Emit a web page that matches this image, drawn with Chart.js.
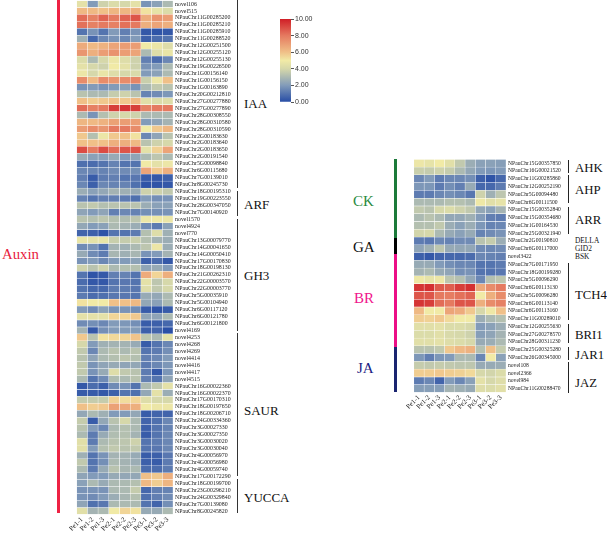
<!DOCTYPE html>
<html>
<head>
<meta charset="utf-8">
<title>Hormone gene heatmap</title>
<script src="https://cdn.jsdelivr.net/npm/chart.js@4/dist/chart.umd.min.js"></script>
<style>
  html, body { margin: 0; padding: 0; background: #fff; }
  #page { position: relative; width: 607px; height: 533px; overflow: hidden; font-family: "Liberation Serif", serif; }
  #page canvas { position: absolute; }
  .note { position: absolute; white-space: nowrap; line-height: 1; transform: translateY(-50%); color: #111; }
  .rule { position: absolute; }
</style>
</head>
<body>
<div id="page">
  <canvas id="leftHeat" width="166" height="539" style="left:69px;top:-5.4px"></canvas>
  <canvas id="rightHeat" width="162" height="258" style="left:406px;top:154.4px"></canvas>
  <canvas id="colorBar" width="60" height="100" style="left:270px;top:10px"></canvas>
</div>
<script>
// column labels
const samples = ["Pe1-1", "Pe1-2", "Pe1-3", "Pe2-1", "Pe2-2", "Pe2-3", "Pe3-1", "Pe3-2", "Pe3-3"];

// left heatmap, auxin genes
const iaaGenes = ["novel106", "novel515", "NPauChr11G00285200", "NPauChr11G00285210", "NPauChr11G00285910", "NPauChr11G00288520", "NPauChr12G00251500", "NPauChr12G00255120", "NPauChr12G00255130", "NPauChr19G00226500", "NPauChr1G00156140", "NPauChr1G00156150", "NPauChr1G00163890", "NPauChr20G00212810", "NPauChr27G00277880", "NPauChr27G00277890", "NPauChr28G00308550", "NPauChr28G00310580", "NPauChr28G00310590", "NPauChr2G00183630", "NPauChr2G00183640", "NPauChr2G00183650", "NPauChr2G00191540", "NPauChr5G00098840", "NPauChr6G00115680", "NPauChr7G00139010", "NPauChr8G00245730"];
const iaaValues = [
  [4.5,2,3.8,4.2,4,4.5,1.8,2.2,3],
  [6.2,6.2,6,6.3,6.3,6.5,5.2,4.6,4.2],
  [8.3,7.8,8.5,8,8.5,8.8,6.6,7.3,7],
  [8.2,7.8,8,7.8,8.2,8,6.5,6.8,6.5],
  [1,1.8,1,2,1.3,1.8,0.3,0.2,0.3],
  [2.7,0.7,1.5,1.8,1.5,2,0.5,0.8,1],
  [6.6,6.2,6.4,6.8,7,7,5,4.8,4.3],
  [7.2,6.5,7,7.3,7,6.8,3,4.3,4.7],
  [4.2,3,4,4.8,4.3,3.8,1.3,0.8,1.5],
  [4.5,4,3.8,5,4.5,3.8,1.8,2,3],
  [4.8,4,4.7,4.3,4,4.1,2,2.2,3],
  [7.5,6.2,7.5,7.2,7.5,7.7,3.7,4.8,6],
  [1.8,2,1.8,2,2.2,1.8,3,3.5,3.3],
  [3.3,3,3,3.6,3.8,3.3,1.4,1.6,1.9],
  [6,5.7,5.8,6,5.8,6.2,4.4,4.2,4.3],
  [8.3,7.8,8,9.3,9.5,9.3,7.8,8,8],
  [3,1.8,3.2,3.8,4,3.8,3,3,3],
  [6.3,6.2,6.4,6.9,7,7,2,2.3,2.8],
  [7,7.5,7.2,8,8,7.5,5,5.8,6.3],
  [5.8,3.2,4.8,5.8,6,5.2,1.5,2.3,3.3],
  [6,6,6,6.5,6.5,6.2,3.3,3.8,4],
  [9,8,9,8.3,8.8,8.8,4.5,5.6,6.8],
  [2.6,2.2,2.2,2.5,2,2.3,3,3.4,3],
  [0.9,0.8,1,1.4,1,1,5,4.5,4.8],
  [1.5,1.5,1.4,1.6,1.6,1.7,6.8,5.8,6.5],
  [1.3,0.4,1.2,1.3,1,1.1,0.4,0.3,0.5],
  [1.5,0.5,1.5,1.4,1.4,0.9,0.2,0.2,0.3]
];
const arfGenes = ["NPauChr18G00195310", "NPauChr19G00223550", "NPauChr26G00347050", "NPauChr7G00140920"];
const arfValues = [
  [2.6,2.2,2.4,2.8,2.7,2.5,3.8,3.8,3.5],
  [1.4,1,1.3,1.3,1.2,0.9,2,1.7,1.8],
  [3.3,3.5,3.2,3.3,3.3,3.3,2.6,2.2,2.2],
  [2.3,2,2.3,1.3,1.5,1.4,1.7,1.7,1.8]
];
const gh3Genes = ["novel1570", "novel4924", "novel770", "NPauChr13G00079770", "NPauChr14G00041650", "NPauChr14G00050410", "NPauChr17G00170830", "NPauChr18G00198130", "NPauChr21G00262310", "NPauChr22G00003570", "NPauChr22G00003770", "NPauChr5G00035910", "NPauChr5G00104940", "NPauChr6G00117120", "NPauChr6G00121780", "NPauChr6G00121800"];
const gh3Values = [
  [3.3,3.2,3.4,3.2,3.1,3.4,4.8,4.9,4.8],
  [2.4,2,2.2,3,2.8,2.6,1.6,1.2,2.2],
  [0.6,0.5,0.2,1,1,1.2,3.2,4.3,2.7],
  [4.7,4.6,4.7,3.7,3.6,3.7,3.2,2.8,2.6],
  [1.6,1.8,1,2.8,2.7,3,3.4,4.8,2.6],
  [2.5,1.6,1.2,2.9,2.7,2.9,1.8,2,2.8],
  [1.8,2,1.5,2,2,2.2,0.5,0.8,0.3],
  [3.8,3.3,3.8,3,3.2,3.2,2.3,2.5,2],
  [1,0.2,0.3,1.3,1.4,1,6.6,5.5,6.5],
  [0.8,0.3,0.3,1,1.1,1,4.5,3.4,4],
  [1,0.7,0.7,1.2,1.2,1.1,4.3,3.5,4],
  [1.2,0.8,0.9,1.1,1.1,1,2.5,2.4,3],
  [5.2,5,5,6,6,6.2,2.4,2.2,3],
  [2,1.6,2.2,1.8,1.8,1.6,0.4,0.2,0.4],
  [4.5,4.5,4.5,5.5,5.5,5.8,2.3,2.3,3],
  [1.6,1.7,1.5,2,1.9,1.7,0.4,0.5,0.7]
];
const saurGenes = ["novel4169", "novel4253", "novel4268", "novel4269", "novel4414", "novel4416", "novel4417", "novel4515", "NPauChr16G00022360", "NPauChr16G00022370", "NPauChr17G00170310", "NPauChr18G00197650", "NPauChr18G00206710", "NPauChr24G00334360", "NPauChr3G00027330", "NPauChr3G00027350", "NPauChr3G00030020", "NPauChr3G00030040", "NPauChr4G00056970", "NPauChr4G00056980", "NPauChr4G00059740"];
const saurValues = [
  [2.8,0.3,1.7,2,2,2,0.5,0.6,0.1],
  [5.8,3.3,5.2,5.4,5.5,5.9,3.4,3,4.5],
  [4,2,2.7,2.8,2.8,2.5,0.4,1,1.5],
  [3.5,1.5,3,3.3,3,3.3,1,1.2,1.7],
  [3.3,2.3,3,3.2,3.4,3.2,1.3,1.5,2],
  [3.5,1.8,2.3,2.5,2.3,2.4,1.2,1.5,1.9],
  [3.5,1.8,2.5,4.3,3.5,3.3,1.2,0.3,1.9],
  [3,1,1.6,3.1,3,3.3,1.3,1,2.3],
  [0.3,0.8,0.5,1.6,1.8,1,3,3.5,4.5],
  [0.4,0.4,0.3,0.5,1,0.9,2.4,4.5,2.6],
  [3.6,3.6,3.6,5.6,5.3,5.5,4.3,4,4],
  [6,5.7,5.8,6.9,6.7,6.5,5,4.8,4.8],
  [2.4,3,2.7,2,2,2.4,0.4,0.6,0.6],
  [3.6,0.4,2.4,3.3,4,3,0.6,0.9,1.5],
  [3.3,2,1.5,3,3.2,3,0.5,1,1.4],
  [3,1.2,2.5,3.1,3.2,2.8,0.4,1,1.5],
  [4.4,1.2,3,3.3,3.4,3.8,1,1.2,1.5],
  [4.4,2,3.2,3.5,3.3,3.5,1,1.1,1.5],
  [2.7,1,1.8,2.8,2.8,2.5,0.4,0.5,1.1],
  [3.5,1,1.7,3,2.8,2.6,0.5,0.4,1.2],
  [3,1.2,2.5,3.3,2.9,3,0.8,0.8,1.2]
];
const yuccaGenes = ["NPauChr17G00172290", "NPauChr18G00199700", "NPauChr23G00296210", "NPauChr24G00329840", "NPauChr7G00139080", "NPauChr8G00245820"];
const yuccaValues = [
  [2.3,2,2,2.5,2.4,2.4,6,5.8,6.5],
  [2.2,3,2.5,3,3,3.2,6.2,5.7,6.3],
  [1.8,1.8,1.8,3,3,3.6,0.7,1.3,1.4],
  [1.8,1.6,2,2.6,2.9,3.2,0.9,1.3,1.6],
  [2.3,0.9,1.1,3,3,3,1,0.6,1.7],
  [4.4,2.8,3,5,5.5,5.2,2.5,2.5,3]
];

// right heatmap, other hormones
const ckGaGenes = ["NPauChr15G00357850", "NPauChr16G00021520", "NPauChr11G00285860", "NPauChr12G00252190", "NPauChr5G00094480", "NPauChr6G00111500", "NPauChr15G00352840", "NPauChr15G00354680", "NPauChr1G00164530", "NPauChr25G00321940", "NPauChr2G00190810", "NPauChr6G00117000", "novel3422"];
const ckGaValues = [
  [4.8,4.6,5,4.4,3.5,2.6,2.2,2.2,2.1],
  [3.7,3.6,3.8,3.6,3,2.4,2,1.9,2],
  [1.5,2,1.2,1.5,1.5,1.7,0.5,0.2,0.7],
  [1.9,1.9,1.2,1.7,1.3,2.5,0.7,0.7,1.2],
  [1.2,1.2,1.5,1.7,1.5,1.1,3.8,2.7,3.4],
  [3,3,3,3.2,3.2,3,4.9,4.4,4.6],
  [3.5,3.3,4,4.2,3.8,3.5,2.4,2.2,2.8],
  [3,3.3,3,2.4,2.4,2.7,2,1.3,1.2],
  [3.2,3.2,3.5,2.6,2.2,2.6,1.9,1.4,1.5],
  [3.9,4,3,2.5,2.2,2.5,1.4,1.6,1.8],
  [1.2,1.1,1.5,1.4,1.6,1.6,3.3,3.6,2.6],
  [2.3,2.7,3.4,2.5,2.4,2.4,1.6,1.5,1.6],
  [0.5,0.3,0.6,0.7,0.7,0.8,1.5,1.4,1.3]
];
const brGenes = ["NPauChr7G00171950", "NPauChr18G00199280", "NPauChr5G00096290", "NPauChr6G00113130", "NPauChr5G00096280", "NPauChr6G00113140", "NPauChr6G00113160", "NPauChr11G00289010", "NPauChr12G00255630", "NPauChr27G00278570", "NPauChr28G00311230"];
const brValues = [
  [2.5,2.5,2,1.7,1.5,1.5,1,1,1.2],
  [2.8,3,2.5,2.3,1.7,1.8,1,1,1.1],
  [4.9,4.6,4.8,3.4,3.2,2.4,1.5,3.2,3.4],
  [9.5,9.6,8.7,8.6,9.3,9.6,6.7,7.5,8],
  [8.8,8.8,8,7.9,8.2,8.5,5,6.5,7.5],
  [9.5,9.3,8.3,8,8.8,8.8,6.5,7.5,7.8],
  [6.2,5,5,6.8,6.6,5.8,4,4.9,6],
  [5.7,5.6,5.8,5.4,5,5,2.6,3,3.2],
  [4.4,4.4,4.5,4.2,4.2,4,2,2.2,2.6],
  [4.2,4.2,4.4,4.1,4,3.8,2.1,2.3,2.8],
  [4.4,4.4,4.5,4.3,4.2,4,2.5,2.6,3]
];
const jaGenes = ["NPauChr25G00325280", "NPauChr26G00345000", "novel108", "novel2366", "novel984", "NPauChr11G00288470"];
const jaValues = [
  [3.3,3.3,3.5,5.8,6.2,6.4,3.2,6,3.6],
  [1.9,1.3,1.9,2,3,3,1.5,5,2.2],
  [3.6,3.5,3.6,3.5,3.4,3.4,2.5,2.5,2.6],
  [5.7,5.7,5.8,5.7,5.6,5.4,4,3.9,4.2],
  [1.2,1.5,0.6,2,1.5,2.2,4.5,4,4.3],
  [2.1,2.1,2.1,2.8,2.7,2.5,4.3,4.2,4.4]
];

// colour scale
const colorTicks = [0, 2, 4, 6, 8, 10];
const stopValues = [0, 2, 4, 5, 6, 8, 10];
const stopColors = [[38,76,165], [130,155,185], [214,216,170], [241,234,166], [240,192,136], [229,122,96], [208,30,38]];

function colorFor(v) {
  let i = 0;
  while (i < stopValues.length - 2 && v > stopValues[i + 1]) i++;
  const t = (v - stopValues[i]) / (stopValues[i + 1] - stopValues[i]);
  const c = stopColors[i].map((a, k) => Math.round(a + (stopColors[i + 1][k] - a) * t));
  return `rgb(${c[0]},${c[1]},${c[2]})`;
}

// one floating bar per cell, one dataset per sample
function drawHeatmap(id, genes, values, labelSize) {
  new Chart(document.getElementById(id), {
    type: 'bar',
    data: {
      labels: genes,
      datasets: samples.map((s, col) => ({
        label: s,
        data: values.map(() => [col, col + 1]),
        backgroundColor: values.map(row => colorFor(row[col])),
        borderColor: 'rgba(255,255,255,0.55)',
        borderWidth: 0.5,
        borderSkipped: false,
        barPercentage: 1,
        categoryPercentage: 1,
        grouped: false
      }))
    },
    options: {
      indexAxis: 'y',
      responsive: false,
      animation: false,
      events: [],
      layout: { padding: 0 },
      plugins: { legend: { display: false }, tooltip: { enabled: false } },
      scales: {
        x: { type: 'linear', min: 0, max: samples.length, display: false },
        samples: {
          type: 'category', axis: 'x', position: 'bottom', labels: samples, offset: true,
          grid: { display: false, drawTicks: false }, border: { display: false },
          ticks: { autoSkip: false, minRotation: 45, maxRotation: 45, padding: 1, color: '#222', font: { family: 'Liberation Serif', size: 7 } }
        },
        y: {
          position: 'right',
          grid: { display: false, drawTicks: false }, border: { display: false },
          afterFit: s => { s.width = 62; },
          ticks: { autoSkip: false, padding: 2, color: '#222', font: { family: 'Liberation Serif', size: labelSize } }
        }
      }
    }
  });
}

function drawColorBar() {
  new Chart(document.getElementById('colorBar'), {
    type: 'bar',
    data: {
      labels: ['scale'],
      datasets: [{
        data: [[0, 10]],
        barPercentage: 1,
        categoryPercentage: 1,
        backgroundColor: ctx => {
          const area = ctx.chart.chartArea;
          if (!area) return '#888';
          const g = ctx.chart.ctx.createLinearGradient(0, area.bottom, 0, area.top);
          stopValues.forEach((v, i) => g.addColorStop(v / 10, `rgb(${stopColors[i].join(',')})`));
          return g;
        }
      }]
    },
    options: {
      responsive: false,
      animation: false,
      events: [],
      layout: { padding: { left: 10, right: 17, top: 9, bottom: 8 } },
      plugins: { legend: { display: false }, tooltip: { enabled: false } },
      scales: {
        x: { display: false },
        y: {
          position: 'right', min: 0, max: 10,
          afterBuildTicks: s => { s.ticks = colorTicks.map(v => ({ value: v })); },
          afterFit: s => { s.width = 22; },
          grid: { drawOnChartArea: false, tickLength: 3, color: '#555' }, border: { display: false },
          ticks: { padding: 1, color: '#333', font: { family: 'Liberation Sans', size: 7 }, callback: v => v.toFixed(2) }
        }
      }
    }
  });
}

drawHeatmap('leftHeat', [...iaaGenes, ...arfGenes, ...gh3Genes, ...saurGenes, ...yuccaGenes],
  [...iaaValues, ...arfValues, ...gh3Values, ...saurValues, ...yuccaValues], 5.9);
drawHeatmap('rightHeat', [...ckGaGenes, ...brGenes, ...jaGenes],
  [...ckGaValues, ...brValues, ...jaValues], 5.6);
drawColorBar();

// family names and brackets around the plots
const page = document.getElementById('page');
function addNote(text, x, y, size, color) {
  const d = document.createElement('div');
  d.className = 'note';
  d.textContent = text;
  d.style.cssText = `left:${x}px;top:${y}px;font-size:${size}px;color:${color || '#111'}`;
  page.appendChild(d);
}
function addRule(x, y1, y2, w, color) {
  const d = document.createElement('div');
  d.className = 'rule';
  d.style.cssText = `left:${x}px;top:${y1}px;width:${w}px;height:${y2 - y1}px;background:${color}`;
  page.appendChild(d);
}

const leftFamilies = [["IAA", 103, 0, 188], ["ARF", 204, 191, 216], ["GH3", 275, 219, 331], ["SAUR", 410, 333, 476], ["YUCCA", 497, 479, 513]];
leftFamilies.forEach(f => { addNote(f[0], 244, f[1], 13); addRule(237, f[2], f[3], 1, '#333'); });

const rightFamilies = [["AHK", 168, 160, 173], ["AHP", 190, 175, 203], ["ARR", 220, 207, 234], ["TCH4", 295, 263, 320], ["BRI1", 335, 324, 343], ["JAR1", 355, 347, 360], ["JAZ", 383, 362, 393]];
rightFamilies.forEach(f => { addNote(f[0], 575, f[1], 12.8); addRule(568, f[2], f[3], 1, '#222'); });
addNote("DELLA", 575, 241, 7.4);
addNote("GID2", 575, 249, 7.4);
addNote("BSK", 575, 257, 7.4);

addNote("Auxin", 2, 254, 14.8, '#e8203c');
addRule(57, 0, 513, 3, '#ee2244');
const hormones = [["CK", 353, 201, '#2a8a3e'], ["GA", 353, 247, '#111'], ["BR", 354, 298, '#f0148c'], ["JA", 357, 368, '#1c1c84']];
hormones.forEach(h => addNote(h[0], h[1], h[2], 15, h[3]));
addRule(394, 159, 238, 3, '#1c7a3a');
addRule(394, 238, 254, 3, '#000');
addRule(394, 254, 347, 3, '#ec0f86');
addRule(394, 347, 392, 3, '#1a2470');
</script>
</body>
</html>
